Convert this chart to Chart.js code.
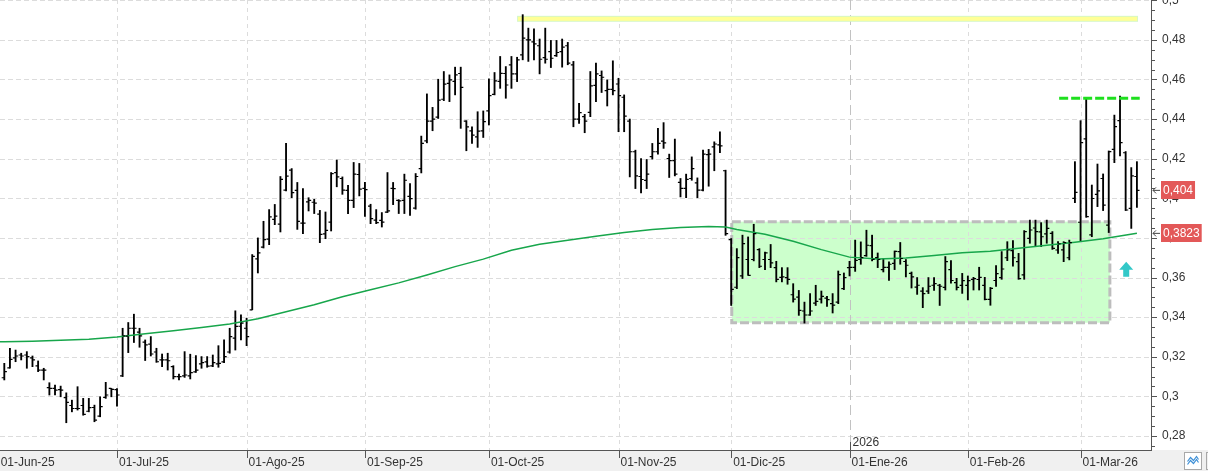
<!DOCTYPE html>
<html>
<head>
  <meta charset="utf-8">
  <title>Cotización diaria</title>
  <script src="https://cdn.jsdelivr.net/npm/chart.js@4.4.1/dist/chart.umd.min.js"></script>
  <style>
    html, body { margin: 0; padding: 0; background: #fff; }
    canvas { display: block; }
  </style>
</head>
<body>
  <canvas id="grafico" width="1208" height="471"></canvas>

  <script>
    // Barras diarias (apertura, máximo, mínimo, cierre), 02-Jun-25 a 13-Mar-26
    const apertura = [
      .3094, .3144, .3194, .3209, .3209, .3194, .3154, .3133, .3044, .3040,
      .3034, .2994, .2954, .2939, .2954, .2925, .2944, .2900, .2995, .3040,
      .3034, .3104, .3304, .3344, .3324, .3274, .3264, .3224, .3184, .3184,
      .3150, .3100, .3104, .3104, .3124, .3164, .3174, .3154, .3164, .3174,
      .3224, .3294, .3354, .3344, .3437, .3694, .3754, .3794, .3894, .3870,
      .4041, .4142, .4040, .3875, .3982, .3980, .3920, .3820, .3880, .4130,
      .4100, .4040, .3990, .4120, .4050, .3960, .3890, .3889, .3930, .4050,
      .3990, .3990, .4010, .3950, .4150, .4290, .4390, .4410, .4500, .4580,
      .4590, .4630, .4390, .4340, .4310, .4340, .4441, .4525, .4590, .4630,
      .4674, .4628, .4724, .4800, .4790, .4770, .4710, .4740, .4720, .4740,
      .4770, .4674, .4400, .4412, .4434, .4570, .4620, .4544, .4550, .4577,
      .4510, .4390, .4235, .4110, .4090, .4210, .4235, .4289, .4201, .4190,
      .4080, .4050, .4100, .4078, .4041, .4220, .4260, .4270, .4139, .3791,
      .3551, .3608, .3691, .3691, .3741, .3691, .3691, .3650, .3601, .3600,
      .3513, .3501, .3431, .3411, .3471, .3491, .3496, .3468, .3476, .3544,
      .3650, .3651, .3691, .3711, .3761, .3701, .3640, .3651, .3671, .3731,
      .3681, .3621, .3552, .3531, .3531, .3561, .3561, .3550, .3640, .3574,
      .3560, .3560, .3591, .3590, .3560, .3490, .3585, .3600, .3700, .3736,
      .3680, .3613, .3798, .3850, .3830, .3820, .3823, .3739, .3740, .3700,
      .4000, .3879, .4300, .3815, .4020, .4100, .3865, .4247, .4392, .4230,
      .3949, .4110
    ];
    const maximo = [
      .3167, .3243, .3234, .3218, .3226, .3204, .3179, .3142, .3069, .3057,
      .3052, .3018, .2981, .3049, .2990, .2990, .2956, .2998, .3071, .3040,
      .3040, .3344, .3373, .3415, .3344, .3285, .3302, .3243, .3214, .3218,
      .3155, .3113, .3226, .3213, .3206, .3201, .3201, .3209, .3256, .3285,
      .3344, .3432, .3412, .3395, .3716, .3800, .3884, .3943, .3969, .4110,
      .4277, .4150, .4080, .4049, .4003, .3995, .3939, .3931, .4130, .4193,
      .4108, .4066, .4181, .4176, .4080, .3970, .3943, .3928, .4130, .4080,
      .3993, .4122, .4074, .4125, .4314, .4527, .4459, .4601, .4640, .4623,
      .4662, .4662, .4392, .4361, .4437, .4441, .4603, .4635, .4716, .4665,
      .4716, .4712, .4927, .4859, .4856, .4804, .4859, .4797, .4797, .4804,
      .4787, .4691, .4479, .4424, .4640, .4682, .4643, .4598, .4694, .4606,
      .4522, .4400, .4243, .4201, .4196, .4277, .4353, .4382, .4223, .4299,
      .4100, .4122, .4209, .4103, .4243, .4247, .4285, .4336, .4142, .3797,
      .3746, .3814, .3805, .3869, .3746, .3729, .3767, .3682, .3650, .3650,
      .3569, .3535, .3476, .3519, .3561, .3532, .3505, .3519, .3633, .3623,
      .3682, .3789, .3780, .3839, .3814, .3724, .3696, .3679, .3734, .3777,
      .3691, .3628, .3600, .3549, .3600, .3600, .3566, .3706, .3685, .3596,
      .3621, .3608, .3601, .3652, .3601, .3550, .3660, .3731, .3781, .3786,
      .3722, .3837, .3890, .3890, .3877, .3890, .3832, .3781, .3781, .3789,
      .4185, .4392, .4500, .4067, .4173, .4123, .4239, .4420, .4516, .4236,
      .4155, .4185
    ];
    const minimo = [
      .3083, .3142, .3175, .3184, .3142, .3150, .3125, .3083, .3007, .3007,
      .2998, .2867, .2922, .2931, .2905, .2922, .2872, .2897, .2990, .2998,
      .2951, .3100, .3221, .3272, .3248, .3181, .3204, .3172, .3150, .3133,
      .3088, .3083, .3096, .3088, .3121, .3142, .3147, .3150, .3147, .3170,
      .3218, .3234, .3285, .3256, .3437, .3623, .3749, .3766, .3867, .3830,
      .4037, .4003, .3843, .3821, .3936, .3923, .3776, .3796, .3835, .4058,
      .4020, .3923, .3953, .4012, .3909, .3872, .3872, .3855, .3928, .3968,
      .3923, .3923, .3914, .3945, .4128, .4280, .4341, .4403, .4493, .4488,
      .4522, .4353, .4240, .4277, .4257, .4307, .4370, .4522, .4555, .4505,
      .4555, .4589, .4699, .4691, .4699, .4628, .4682, .4660, .4716, .4662,
      .4674, .4361, .4378, .4331, .4412, .4488, .4534, .4466, .4522, .4336,
      .4336, .4108, .4049, .4027, .4049, .4198, .4223, .4252, .4105, .4113,
      .4007, .4003, .4091, .4003, .4037, .4061, .4139, .4230, .3813, .3459,
      .3544, .3595, .3611, .3684, .3650, .3640, .3650, .3578, .3578, .3566,
      .3476, .3409, .3370, .3409, .3459, .3471, .3454, .3421, .3468, .3539,
      .3608, .3631, .3667, .3707, .3684, .3650, .3628, .3586, .3640, .3667,
      .3603, .3547, .3515, .3448, .3519, .3535, .3459, .3537, .3571, .3537,
      .3520, .3487, .3537, .3537, .3487, .3460, .3555, .3591, .3685, .3658,
      .3591, .3591, .3773, .3759, .3756, .3773, .3742, .3722, .3680, .3689,
      .3978, .3781, .3904, .3806, .3958, .3938, .3827, .4180, .4214, .3938,
      .3848, .3954
    ];
    const cierre = [
      .3125, .3187, .3204, .3204, .3201, .3184, .3133, .3133, .3040, .3032,
      .3032, .2970, .2939, .2939, .2909, .2943, .2880, .2948, .3007, .3035,
      .3007, .3305, .3344, .3344, .3305, .3260, .3214, .3175, .3184, .3180,
      .3100, .3100, .3108, .3120, .3133, .3170, .3153, .3170, .3167, .3201,
      .3302, .3353, .3370, .3302, .3707, .3724, .3791, .3906, .3910, .4096,
      .4112, .4029, .3884, .3875, .3990, .3976, .3818, .3838, .4125, .4108,
      .4041, .3990, .4122, .4046, .4044, .3897, .3877, .3880, .3936, .4049,
      .3987, .4091, .3998, .4110, .4277, .4390, .4400, .4496, .4576, .4598,
      .4623, .4560, .4361, .4319, .4339, .4387, .4518, .4593, .4631, .4572,
      .4628, .4699, .4809, .4800, .4780, .4702, .4702, .4707, .4736, .4763,
      .4682, .4400, .4432, .4390, .4567, .4628, .4611, .4550, .4544, .4518,
      .4415, .4235, .4113, .4095, .4122, .4235, .4277, .4280, .4190, .4122,
      .4050, .4096, .4150, .4041, .4223, .4223, .4274, .4265, .3822, .3540,
      .3701, .3771, .3611, .3822, .3657, .3724, .3674, .3591, .3603, .3591,
      .3491, .3434, .3411, .3431, .3480, .3505, .3488, .3461, .3615, .3600,
      .3651, .3687, .3701, .3763, .3692, .3691, .3651, .3667, .3732, .3696,
      .3662, .3603, .3561, .3519, .3556, .3569, .3556, .3680, .3585, .3550,
      .3584, .3584, .3595, .3601, .3490, .3545, .3620, .3643, .3739, .3700,
      .3595, .3832, .3840, .3832, .3806, .3848, .3747, .3770, .3776, .3776,
      .4030, .4281, .3907, .3999, .4037, .3966, .4236, .4362, .4281, .3941,
      .4113, .4040
    ];

    // Media móvil (leída cada pocas sesiones)
    const mediaIdx = [-1, 0, 5, 10, 15, 20, 25, 30, 35, 40, 45, 50, 55, 60, 65, 70, 75, 80, 85, 90, 95,
      100, 105, 110, 115, 120, 125, 128, 130, 135, 140, 145, 150, 155, 160, 165, 170, 175, 180, 185, 190, 195, 201];
    const mediaVal = [.3275, .3276, .3279, .3283, .3289, .3300, .3316, .3331, .3348, .3366, .3392, .3427, .3463,
      .3503, .3538, .3573, .3613, .3655, .3693, .3738, .3768, .3788, .3808, .3827, .3842, .3852, .3857, .3855,
      .3843, .3819, .3783, .3741, .3703, .3693, .3699, .3711, .3725, .3733, .3748, .3763, .3778, .3796, .3823];

    // Eje temporal: primera sesión de cada mes
    const mesEtiquetas = ['01-Jun-25', '01-Jul-25', '01-Ago-25', '01-Sep-25', '01-Oct-25',
      '01-Nov-25', '01-Dic-25', '01-Ene-26', '01-Feb-26', '01-Mar-26'];
    const mesInicio = [0, 21, 44, 65, 87, 110, 130, 151, 172, 192];
    const etiquetaAnio = '2026';

    const ultimoCierre = 0.404;
    const ultimaMedia = 0.3823;

    // Dibujos del analista (en unidades de sesión / precio)
    const maximoAnual = { desde: 91, hasta: 201.2, alto: 0.4921, bajo: 0.4891 };
    const resistencia = { desde: 187.2, hasta: 201.5, valor: 0.4505 };
    const zonaLateral = { desde: 129.1, hasta: 196.2, alto: 0.3882, bajo: 0.3372 };
    const flecha = { idx: 199.1, valor: 0.3680 };

    const fmt = v => String(Number(v.toFixed(4))).replace('.', ',');
    const esMayor = v => Math.abs(v * 50 - Math.round(v * 50)) < 1e-6;

    Chart.defaults.font.family = '"Liberation Sans", Arial, sans-serif';
    Chart.defaults.font.size = 12;
    Chart.defaults.color = '#333';

    const decoracion = {
      id: 'decoracion',
      beforeDraw(chart) {
        const { ctx, width, height, chartArea } = chart;
        ctx.save();
        ctx.fillStyle = '#fff';
        ctx.fillRect(0, 0, width, height);
        ctx.fillStyle = '#f0f0f0';
        ctx.fillRect(0, chartArea.bottom, width, height - chartArea.bottom);
        ctx.restore();
      },
      beforeDatasetsDraw(chart) {
        const { ctx, chartArea: a, scales: { x, y } } = chart;
        ctx.save();
        ctx.beginPath();
        ctx.rect(a.left, a.top, a.right - a.left, a.bottom - a.top);
        ctx.clip();

        // zona lateral (relleno)
        const zx1 = x.getPixelForValue(zonaLateral.desde), zx2 = x.getPixelForValue(zonaLateral.hasta);
        const zy1 = y.getPixelForValue(zonaLateral.alto), zy2 = y.getPixelForValue(zonaLateral.bajo);
        ctx.fillStyle = '#ccffcc';
        ctx.fillRect(zx1, zy1, zx2 - zx1, zy2 - zy1);

        // rejilla horizontal
        ctx.lineWidth = 1;
        ctx.strokeStyle = '#dcdcdc';
        ctx.setLineDash([5, 3]);
        y.ticks.forEach(t => {
          if (!esMayor(t.value)) return;
          const py = Math.round(y.getPixelForValue(t.value)) + 0.5;
          ctx.beginPath();
          ctx.moveTo(a.left, py);
          ctx.lineTo(a.right, py);
          ctx.stroke();
        });

        // rejilla vertical (meses)
        x.ticks.forEach((t, i) => {
          const px = Math.round(x.getPixelForValue(t.value)) + 0.5;
          if (mesEtiquetas[i] === '01-Ene-26') {
            ctx.strokeStyle = '#c2c2c2';
            ctx.setLineDash([10, 5]);
          } else {
            ctx.strokeStyle = '#dcdcdc';
            ctx.setLineDash([4, 4]);
          }
          ctx.beginPath();
          ctx.moveTo(px, a.top);
          ctx.lineTo(px, a.bottom);
          ctx.stroke();
        });

        // zona lateral (borde)
        ctx.setLineDash([9, 3]);
        ctx.lineWidth = 3;
        ctx.strokeStyle = '#bdbdbd';
        ctx.strokeRect(zx1, zy1, zx2 - zx1, zy2 - zy1);

        // banda de máximos
        const bx1 = x.getPixelForValue(maximoAnual.desde), bx2 = x.getPixelForValue(maximoAnual.hasta);
        const by1 = y.getPixelForValue(maximoAnual.alto), by2 = y.getPixelForValue(maximoAnual.bajo);
        ctx.setLineDash([]);
        ctx.fillStyle = '#d6f7c6';
        ctx.fillRect(bx1, by1, bx2 - bx1, by2 - by1);
        ctx.fillStyle = '#ffff96';
        ctx.fillRect(bx1 + 1, by1 + 1, bx2 - bx1 - 2, by2 - by1 - 2);
        ctx.restore();
      },
      afterDatasetsDraw(chart) {
        const { ctx, chartArea: a, scales: { x, y } } = chart;
        ctx.save();
        ctx.beginPath();
        ctx.rect(a.left, a.top, a.right - a.left, a.bottom - a.top);
        ctx.clip();

        // apertura a la izquierda, cierre a la derecha
        ctx.strokeStyle = '#000';
        ctx.lineWidth = 1.2;
        ctx.beginPath();
        apertura.forEach((o, i) => {
          const px = x.getPixelForValue(i);
          const po = y.getPixelForValue(o);
          const pc = y.getPixelForValue(cierre[i]);
          ctx.moveTo(px - 2.6, po);
          ctx.lineTo(px, po);
          ctx.moveTo(px, pc);
          ctx.lineTo(px + 2.6, pc);
        });
        ctx.stroke();

        // resistencia discontinua
        const ry = y.getPixelForValue(resistencia.valor);
        ctx.strokeStyle = '#1ee01e';
        ctx.lineWidth = 3;
        ctx.setLineDash([9, 3]);
        ctx.beginPath();
        ctx.moveTo(x.getPixelForValue(resistencia.desde), ry);
        ctx.lineTo(x.getPixelForValue(resistencia.hasta), ry);
        ctx.stroke();
        ctx.setLineDash([]);

        // flecha alcista
        const fx = x.getPixelForValue(flecha.idx), fy = y.getPixelForValue(flecha.valor);
        ctx.fillStyle = '#33c8c8';
        ctx.beginPath();
        ctx.moveTo(fx, fy);
        ctx.lineTo(fx + 7, fy + 8);
        ctx.lineTo(fx + 3, fy + 8);
        ctx.lineTo(fx + 3, fy + 15);
        ctx.lineTo(fx - 3, fy + 15);
        ctx.lineTo(fx - 3, fy + 8);
        ctx.lineTo(fx - 7, fy + 8);
        ctx.closePath();
        ctx.fill();
        ctx.restore();
      },
      afterDraw(chart) {
        const { ctx, chartArea: a, scales: { x, y } } = chart;
        ctx.save();
        ctx.strokeStyle = '#555';
        ctx.lineWidth = 1;

        // marcas del eje de precios
        y.ticks.forEach(t => {
          const py = Math.round(y.getPixelForValue(t.value)) + 0.5;
          const len = esMayor(t.value) ? 6 : 4;
          ctx.beginPath();
          ctx.moveTo(a.right, py);
          ctx.lineTo(a.right + len, py);
          ctx.stroke();
        });

        // marcas del eje temporal
        x.ticks.forEach((t, i) => {
          const px = Math.round(x.getPixelForValue(t.value)) + 0.5;
          const arriba = mesEtiquetas[i] === '01-Ene-26' ? 8 : 0;
          ctx.beginPath();
          ctx.moveTo(px, a.bottom - arriba);
          ctx.lineTo(px, a.bottom + 8);
          ctx.stroke();
          if (arriba) {
            ctx.fillStyle = '#333';
            ctx.font = '12px "Liberation Sans", Arial, sans-serif';
            ctx.textBaseline = 'bottom';
            ctx.textAlign = 'left';
            ctx.fillText(etiquetaAnio, px + 2, a.bottom - 1);
          }
        });

        // etiquetas de último precio y media
        const etiqueta = valor => {
          const py = y.getPixelForValue(valor);
          const texto = fmt(valor);
          ctx.font = '12px "Liberation Sans", Arial, sans-serif';
          const w = ctx.measureText(texto).width + 4;
          ctx.fillStyle = '#e35858';
          ctx.fillRect(a.right + 10, Math.round(py) - 9, w, 18);
          ctx.fillStyle = '#fff';
          ctx.textBaseline = 'middle';
          ctx.textAlign = 'left';
          ctx.fillText(texto, a.right + 12, py + 0.5);
          ctx.strokeStyle = '#444';
          ctx.beginPath();
          ctx.moveTo(a.right + 2, py);
          ctx.lineTo(a.right + 9, py);
          ctx.moveTo(a.right + 5, py - 3);
          ctx.lineTo(a.right + 2, py);
          ctx.lineTo(a.right + 5, py + 3);
          ctx.stroke();
        };
        etiqueta(ultimoCierre);
        etiqueta(ultimaMedia);

        // botón de tipo de gráfico
        const bx = a.right + 33.5, by = a.bottom + 2.5;
        ctx.fillStyle = '#fff';
        ctx.fillRect(bx, by, 17, 17);
        ctx.strokeStyle = '#a8a8a8';
        ctx.strokeRect(bx, by, 17, 17);
        ctx.strokeRect(bx + 22, by, 17, 17);
        ctx.strokeStyle = '#3d8fd6';
        ctx.lineWidth = 1.2;
        [0, 3].forEach(d => {
          ctx.beginPath();
          ctx.moveTo(bx + 3, by + 9 + d);
          ctx.lineTo(bx + 6, by + 5 + d);
          ctx.lineTo(bx + 9, by + 8 + d);
          ctx.lineTo(bx + 12, by + 4 + d);
          ctx.lineTo(bx + 14, by + 7 + d);
          ctx.stroke();
        });
        ctx.restore();
      }
    };

    new Chart(document.getElementById('grafico'), {
      type: 'bar',
      data: {
        datasets: [
          {
            type: 'line',
            label: 'Media',
            data: mediaIdx.map((v, i) => ({ x: v, y: mediaVal[i] })),
            borderColor: '#17a64b',
            borderWidth: 1.5,
            pointRadius: 0,
            tension: 0,
            order: 1
          },
          {
            type: 'bar',
            label: 'Precio',
            data: maximo.map((h, i) => ({ x: i, y: [minimo[i], h] })),
            backgroundColor: '#000',
            barThickness: 1.2,
            borderSkipped: false,
            order: 2
          }
        ]
      },
      options: {
        responsive: false,
        devicePixelRatio: 1,
        animation: false,
        layout: { padding: 0 },
        plugins: { legend: { display: false }, tooltip: { enabled: false } },
        scales: {
          x: {
            type: 'linear',
            min: -0.763,
            max: 203.5,
            offset: false,
            afterBuildTicks: s => { s.ticks = mesInicio.map(i => ({ value: i - 1 })); },
            afterFit: s => { s.height = 21; s.paddingLeft = 0; s.paddingRight = 0; },
            grid: { display: false, drawTicks: false, offset: false },
            border: { display: true, color: '#555', width: 1 },
            ticks: {
              autoSkip: false,
              maxRotation: 0,
              minRotation: 0,
              align: 'start',
              labelOffset: 2,
              padding: 5,
              color: '#333',
              callback: (v, i) => mesEtiquetas[i]
            }
          },
          y: {
            type: 'linear',
            position: 'right',
            min: 0.27294,
            max: 0.5001,
            afterFit: s => { s.width = 57; s.paddingTop = 0; s.paddingBottom = 0; },
            grid: { display: false, drawTicks: false },
            border: { display: true, color: '#555', width: 1 },
            ticks: {
              stepSize: 0.005,
              includeBounds: false,
              autoSkip: false,
              padding: 11,
              color: '#333',
              callback: v => esMayor(v) ? fmt(v) : ''
            }
          }
        }
      },
      plugins: [decoracion]
    });
  </script>
</body>
</html>
